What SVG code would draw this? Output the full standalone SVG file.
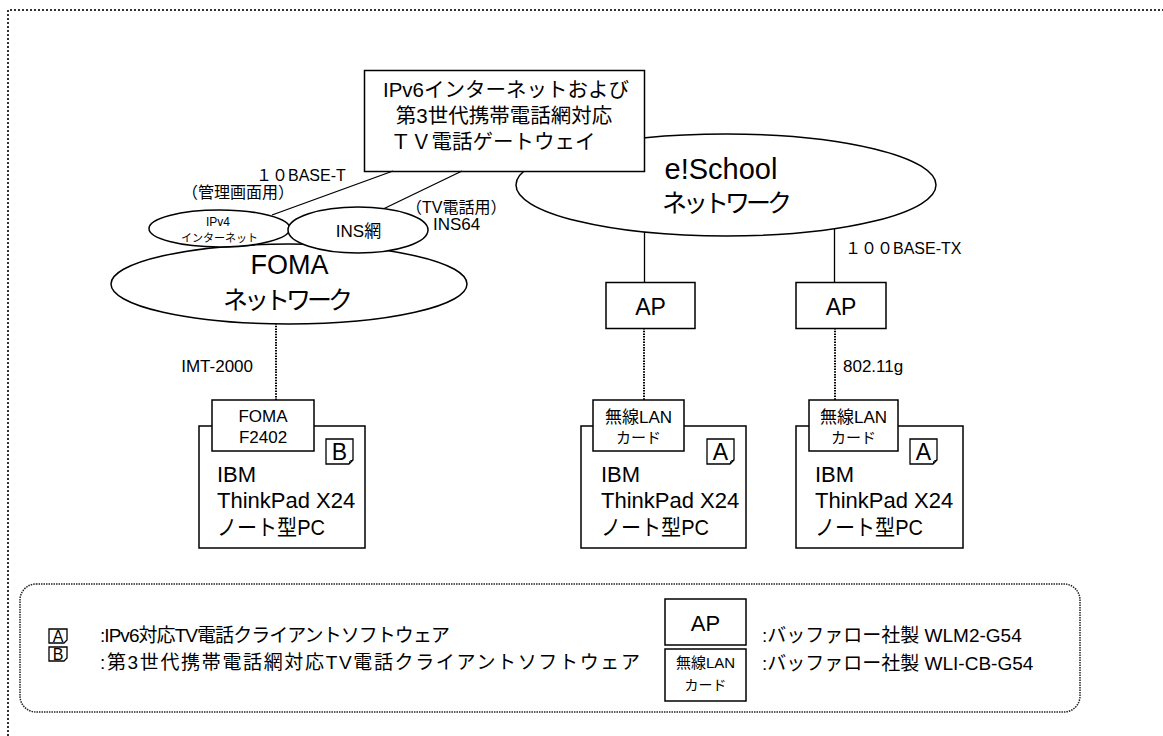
<svg xmlns="http://www.w3.org/2000/svg" width="1163" height="736" viewBox="0 0 1163 736">
<style>
text{font-family:'Liberation Sans','Noto Sans CJK JP',sans-serif;fill:#000}
.box{fill:#fff;stroke:#000;stroke-width:1.5}
.ell{fill:#fff;stroke:#000;stroke-width:1.5}
.solid{stroke:#000;stroke-width:1.3;fill:none}
.dot{stroke:#000;stroke-width:2;stroke-dasharray:1.5 1.2;fill:none}
.badge{fill:#fff;stroke:#000;stroke-width:1.3}
.m{text-anchor:middle}
</style>
<defs>
<g id="badgeShape"><path class="badge" d="M0,0 H27 V21 L23,25 H0 Z"/><path d="M23,25 L24,22 L27,21" fill="none" stroke="#000" stroke-width="1"/></g>
<g id="smallBadge"><path class="badge" d="M0,0 H18 V11 L15,14 H0 Z"/></g>
</defs>
<rect width="1163" height="736" fill="#fff"/>
<g id="frame">
<path d="M8,736 V10 H1163" fill="none" stroke="#333" stroke-width="2" stroke-dasharray="2 2"/>
</g>

<g id="escool-net">
<ellipse class="ell" cx="726" cy="185" rx="210" ry="51"/>
<text class="m" x="721" y="179" font-size="29">e!School</text>
<text class="m" x="727" y="212" font-size="25" textLength="130" lengthAdjust="spacing">ネットワーク</text>
</g>

<g id="gateway">
<rect class="box" x="364.5" y="70.5" width="280" height="101"/>
<text class="m" x="506" y="97" font-size="20.5">IPv6インターネットおよび</text>
<text class="m" x="504" y="123" font-size="20.5">第3世代携帯電話網対応</text>
<text class="m" x="493" y="149" font-size="20.5">ＴＶ電話ゲートウェイ</text>
</g>

<g id="connectors">
<line class="solid" x1="393" y1="171" x2="272" y2="215" stroke-width="1"/>
<line class="solid" x1="462" y1="171" x2="379" y2="211" stroke-width="1.6"/>
<line class="solid" x1="644.5" y1="232" x2="644.5" y2="282"/>
<line class="solid" x1="834.5" y1="229" x2="834.5" y2="282"/>
<line class="dot" x1="276" y1="323" x2="276" y2="400"/>
<line class="dot" x1="644" y1="328" x2="644" y2="400"/>
<line class="dot" x1="835" y1="328" x2="835" y2="400"/>
</g>

<g id="labels">
<text x="256" y="181" font-size="16">１０BASE-T</text>
<text x="182" y="198" font-size="16">（管理画面用）</text>
<text x="406" y="213" font-size="16">（TV電話用）</text>
<text x="433" y="230" font-size="17">INS64</text>
<text x="845" y="254" font-size="16">１００BASE-TX</text>
<text x="253" y="372" font-size="17" text-anchor="end">IMT-2000</text>
<text x="843" y="372" font-size="17">802.11g</text>
</g>

<g id="foma-net">
<ellipse class="ell" cx="289" cy="284" rx="178" ry="40"/>
<text class="m" x="289.5" y="274" font-size="27">FOMA</text>
<text class="m" x="288" y="309" font-size="25" textLength="130" lengthAdjust="spacing">ネットワーク</text>
</g>

<g id="ipv4-net">
<ellipse class="ell" cx="219.5" cy="228.5" rx="70.5" ry="18.5"/>
<text class="m" x="218" y="226" font-size="12">IPv4</text>
<text class="m" x="219.5" y="242" font-size="11">インターネット</text>
</g>

<g id="ins-net">
<ellipse class="ell" cx="358" cy="230" rx="70" ry="23"/>
<text class="m" x="358.5" y="237" font-size="17">INS網</text>
</g>

<g id="ap1">
<rect class="box" x="606" y="282.5" width="89" height="46"/>
<text class="m" x="650.5" y="315" font-size="23">AP</text>
</g>
<g id="ap2">
<rect class="box" x="796" y="282.5" width="90" height="46"/>
<text class="m" x="841" y="315" font-size="23">AP</text>
</g>

<g id="pc1">
<rect class="box" x="199" y="426" width="166" height="122"/>
<use href="#badgeShape" x="326" y="439"/>
<text class="m" x="339.5" y="460" font-size="23">B</text>
<text x="217" y="482" font-size="22">IBM</text>
<text x="217" y="508" font-size="22">ThinkPad X24</text>
<text x="217" y="535" font-size="22" textLength="108" lengthAdjust="spacingAndGlyphs">ノート型PC</text>
</g>
<g id="card1">
<rect class="box" x="212" y="400" width="102" height="51"/>
<text class="m" x="263" y="422" font-size="17">FOMA</text>
<text class="m" x="263" y="443" font-size="17">F2402</text>
</g>

<g id="pc2">
<rect class="box" x="581" y="426" width="165" height="122"/>
<use href="#badgeShape" x="707" y="439"/>
<text class="m" x="720.5" y="460" font-size="23">A</text>
<text x="601" y="482" font-size="22">IBM</text>
<text x="601" y="508" font-size="22">ThinkPad X24</text>
<text x="601" y="535" font-size="22" textLength="108" lengthAdjust="spacingAndGlyphs">ノート型PC</text>
</g>
<g id="card2">
<rect class="box" x="593" y="400" width="91" height="51"/>
<text class="m" x="638.5" y="423" font-size="17">無線LAN</text>
<text class="m" x="638.5" y="443" font-size="15">カード</text>
</g>

<g id="pc3">
<rect class="box" x="796" y="426" width="167" height="122"/>
<use href="#badgeShape" x="910" y="439"/>
<text class="m" x="923.5" y="460" font-size="23">A</text>
<text x="815" y="482" font-size="22">IBM</text>
<text x="815" y="508" font-size="22">ThinkPad X24</text>
<text x="815" y="535" font-size="22" textLength="108" lengthAdjust="spacingAndGlyphs">ノート型PC</text>
</g>
<g id="card3">
<rect class="box" x="809" y="400" width="89" height="51"/>
<text class="m" x="853.5" y="423" font-size="17">無線LAN</text>
<text class="m" x="853.5" y="443" font-size="15">カード</text>
</g>

<g id="legend">
<rect x="20" y="584" width="1060" height="128" rx="16" fill="none" stroke="#222" stroke-width="1.5" stroke-dasharray="1.5 1"/>
<use href="#smallBadge" x="49" y="629"/>
<text class="m" x="58" y="642" font-size="16">A</text>
<use href="#smallBadge" x="49" y="647"/>
<text class="m" x="58" y="660" font-size="16">B</text>
<text x="100" y="642" font-size="19" textLength="350" lengthAdjust="spacing">:IPv6対応TV電話クライアントソフトウェア</text>
<text x="100" y="669" font-size="19" textLength="540" lengthAdjust="spacing">:第3世代携帯電話網対応TV電話クライアントソフトウェア</text>
<rect class="box" x="665" y="599" width="81" height="46" stroke-width="1.3"/>
<text class="m" x="705.5" y="631" font-size="22">AP</text>
<rect class="box" x="665" y="649" width="81" height="52" stroke-width="1.3"/>
<text class="m" x="705.5" y="668" font-size="15">無線LAN</text>
<text class="m" x="705.5" y="690" font-size="14">カード</text>
<text x="762" y="642" font-size="19">:バッファロー社製 WLM2-G54</text>
<text x="762" y="670" font-size="19">:バッファロー社製 WLI-CB-G54</text>
</g>
</svg>
